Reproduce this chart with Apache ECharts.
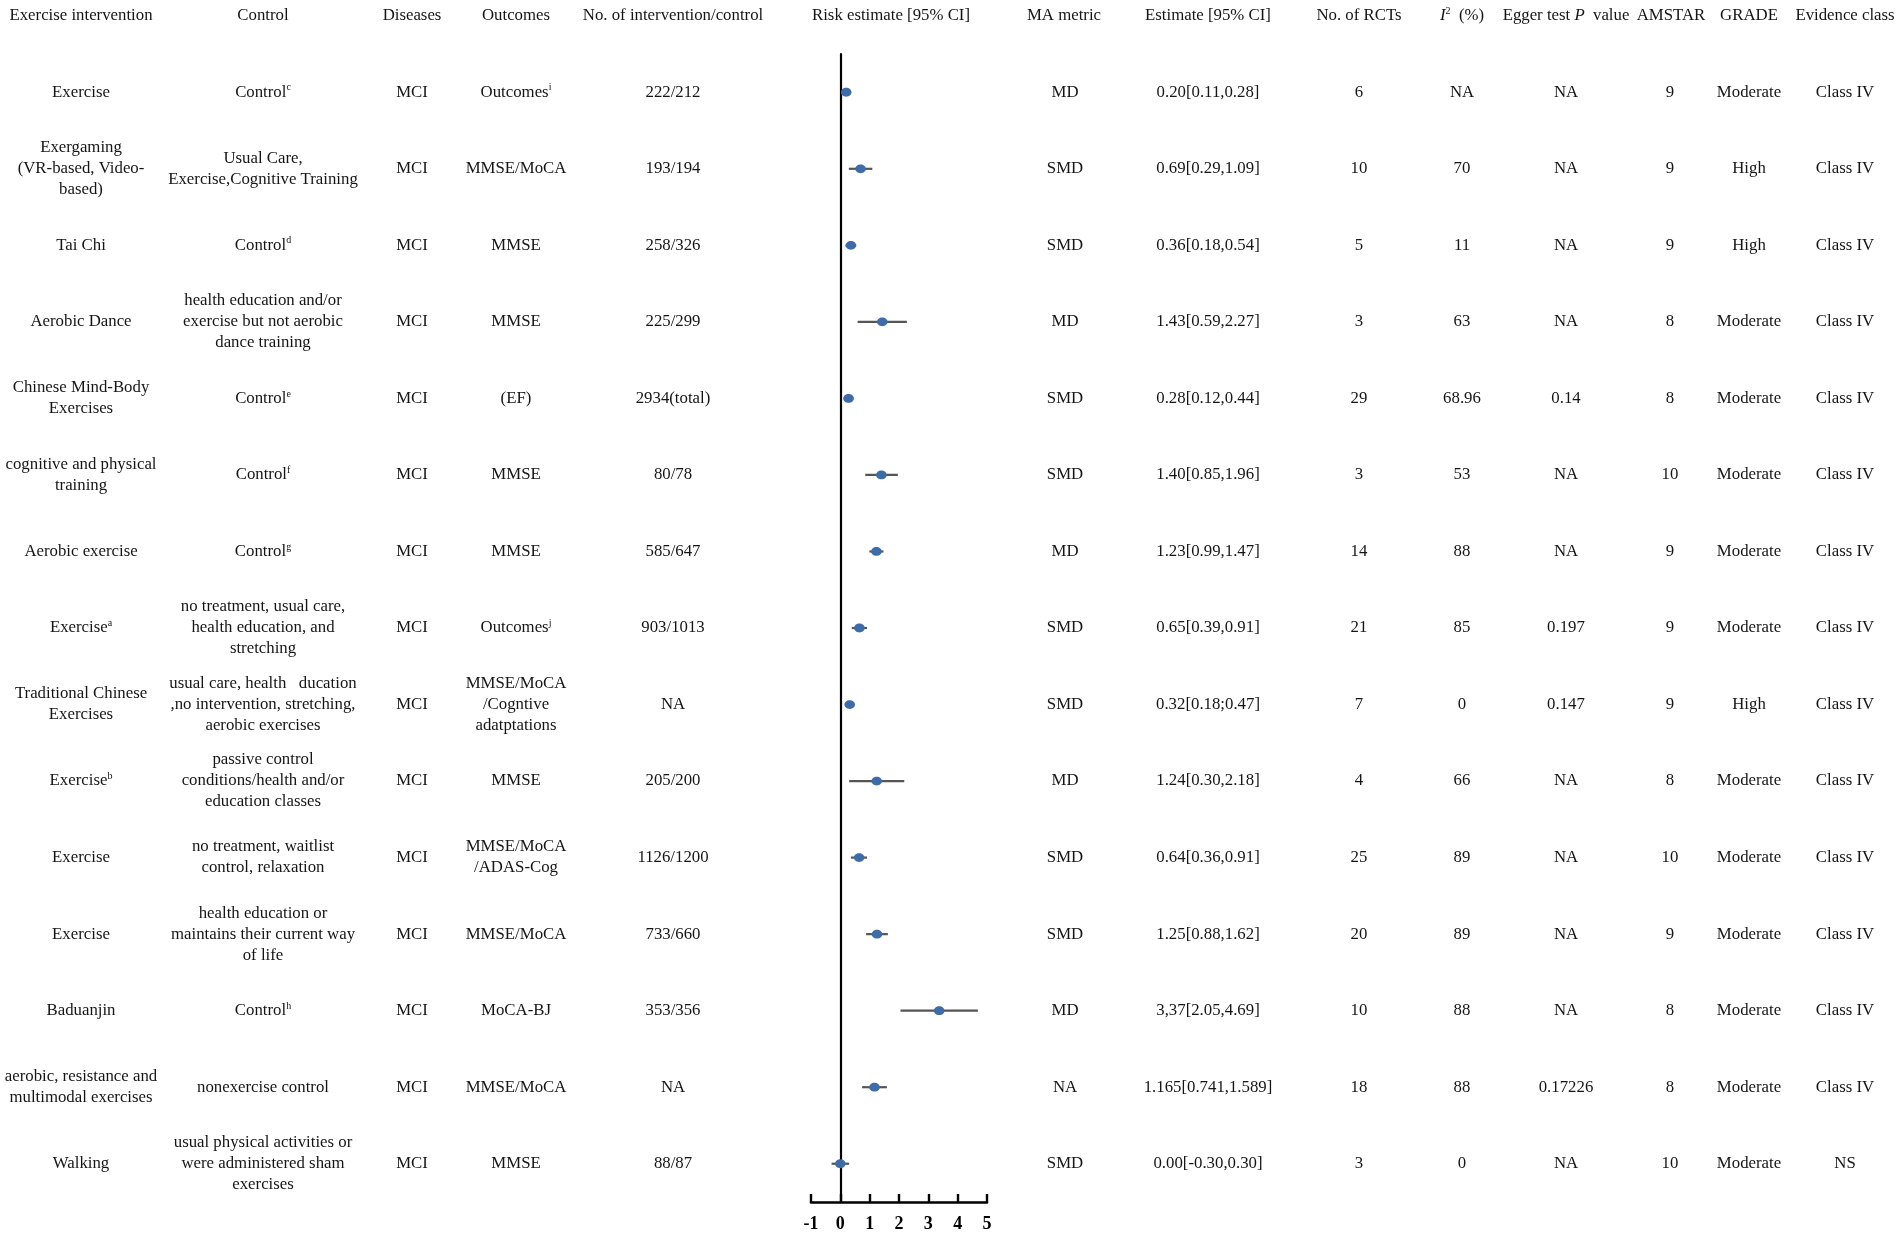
<!DOCTYPE html>
<html>
<head>
<meta charset="utf-8">
<script src="https://cdn.jsdelivr.net/npm/echarts@6/dist/echarts.min.js"></script>
<style>
html,body{margin:0;padding:0;background:#fff;}
#chart{width:1902px;height:1235px;}
</style>
</head>
<body>
<div id="chart"></div>
<script>
// ---------- DATA ----------
const HEADERS = ['Exercise intervention','Control','Diseases','Outcomes','No. of intervention/control','Risk estimate [95% CI]','MA metric','Estimate [95% CI]','No. of RCTs','{it|I}{sup|2}  (%)','Egger test {it|P}  value','AMSTAR','GRADE','Evidence class'];

const INTERVENTION = ['Exercise','Exergaming\n(VR-based, Video-\nbased)','Tai Chi','Aerobic Dance','Chinese Mind-Body\nExercises','cognitive and physical\ntraining','Aerobic exercise','Exercise{sup|a}','Traditional Chinese\nExercises','Exercise{sup|b}','Exercise','Exercise','Baduanjin','aerobic, resistance and\nmultimodal exercises','Walking'];

const CONTROL = ['Control{sup|c}','Usual Care,\nExercise,Cognitive Training','Control{sup|d}','health education and/or\nexercise but not aerobic\ndance training','Control{sup|e}','Control{sup|f}','Control{sup|g}','no treatment, usual care,\nhealth education, and\nstretching','usual care, health   ducation\n,no intervention, stretching,\naerobic exercises','passive control\nconditions/health and/or\neducation classes','no treatment, waitlist\ncontrol, relaxation','health education or\nmaintains their current way\nof life','Control{sup|h}','nonexercise control','usual physical activities or\nwere administered sham\nexercises'];

const DISEASES = ['MCI','MCI','MCI','MCI','MCI','MCI','MCI','MCI','MCI','MCI','MCI','MCI','MCI','MCI','MCI'];

const OUTCOMES = ['Outcomes{sup|i}','MMSE/MoCA','MMSE','MMSE','(EF)','MMSE','MMSE','Outcomes{sup|j}','MMSE/MoCA\n/Cogntive\nadatptations','MMSE','MMSE/MoCA\n/ADAS-Cog','MMSE/MoCA','MoCA-BJ','MMSE/MoCA','MMSE'];

const SAMPLE = ['222/212','193/194','258/326','225/299','2934(total)','80/78','585/647','903/1013','NA','205/200','1126/1200','733/660','353/356','NA','88/87'];

const MA_METRIC = ['MD','SMD','SMD','MD','SMD','SMD','MD','SMD','SMD','MD','SMD','SMD','MD','NA','SMD'];

const ESTIMATE_TEXT = ['0.20[0.11,0.28]','0.69[0.29,1.09]','0.36[0.18,0.54]','1.43[0.59,2.27]','0.28[0.12,0.44]','1.40[0.85,1.96]','1.23[0.99,1.47]','0.65[0.39,0.91]','0.32[0.18;0.47]','1.24[0.30,2.18]','0.64[0.36,0.91]','1.25[0.88,1.62]','3,37[2.05,4.69]','1.165[0.741,1.589]','0.00[-0.30,0.30]'];

const RCTS = ['6','10','5','3','29','3','14','21','7','4','25','20','10','18','3'];
const I2 = ['NA','70','11','63','68.96','53','88','85','0','66','89','89','88','88','0'];
const EGGER = ['NA','NA','NA','NA','0.14','NA','NA','0.197','0.147','NA','NA','NA','NA','0.17226','NA'];
const AMSTAR = ['9','9','9','8','8','10','9','9','9','8','10','9','8','8','10'];
const GRADE = ['Moderate','High','High','Moderate','Moderate','Moderate','Moderate','Moderate','High','Moderate','Moderate','Moderate','Moderate','Moderate','Moderate'];
const EVIDENCE = ['Class IV','Class IV','Class IV','Class IV','Class IV','Class IV','Class IV','Class IV','Class IV','Class IV','Class IV','Class IV','Class IV','Class IV','NS'];

const EST = [0.20,0.69,0.36,1.43,0.28,1.40,1.23,0.65,0.32,1.24,0.64,1.25,3.37,1.165,0.00];
const LO  = [0.11,0.29,0.18,0.59,0.12,0.85,0.99,0.39,0.18,0.30,0.36,0.88,2.05,0.741,-0.30];
const HI  = [0.28,1.09,0.54,2.27,0.44,1.96,1.47,0.91,0.47,2.18,0.91,1.62,4.69,1.589,0.30];

const X_TICKS = [-1,0,1,2,3,4,5];

// ---------- LAYOUT ----------
const TEXT_COLS = [INTERVENTION, CONTROL, DISEASES, OUTCOMES, SAMPLE, MA_METRIC, ESTIMATE_TEXT, RCTS, I2, EGGER, AMSTAR, GRADE, EVIDENCE];
const TEXT_COL_X = [81, 263, 412, 516, 673, 1065, 1208, 1359, 1462, 1566, 1670, 1749, 1845];
const HEADER_X = [81, 263, 412, 516, 673, 891, 1064, 1208, 1359, 1462, 1566, 1671, 1749, 1845];
const FONT_FAMILY = '"Liberation Serif","Times New Roman",serif';
const FONT_SIZE = 16.8;
const TEXT_COLOR = '#151515';
const RICH = {
  sup: { fontSize: 10, lineHeight: 10, verticalAlign: 'top', fontFamily: FONT_FAMILY, fill: TEXT_COLOR, padding: [1, 0, 0, 0] },
  it: { fontStyle: 'italic', fontSize: FONT_SIZE, fontFamily: FONT_FAMILY, fill: TEXT_COLOR }
};

const ROWS = INTERVENTION.map((_, i) => 'r' + i);

function textStyle(str) {
  return {
    text: str,
    fill: TEXT_COLOR,
    fontFamily: FONT_FAMILY,
    fontSize: FONT_SIZE,
    align: 'center',
    verticalAlign: 'middle',
    lineHeight: 21,
    rich: RICH
  };
}

const chart = echarts.init(document.getElementById('chart'), null, { renderer: 'canvas' });

const option = {
  backgroundColor: '#ffffff',
  animation: false,
  grid: { left: 811, right: 915, top: 54, bottom: 33, containLabel: false },
  xAxis: {
    type: 'value',
    min: -1, max: 5, interval: 1,
    axisLine: { show: true, lineStyle: { color: '#000', width: 2.6 } },
    axisTick: { show: true, inside: true, length: 8, lineStyle: { color: '#000', width: 2.4 } },
    axisLabel: {
      show: true, margin: 13, color: '#000',
      fontFamily: FONT_FAMILY, fontSize: 18, fontWeight: 'bold',
      formatter: v => X_TICKS.includes(v) ? String(v) : ''
    },
    splitLine: { show: false }
  },
  yAxis: {
    type: 'category',
    data: ROWS,
    inverse: true,
    axisLine: { show: true, onZero: true, lineStyle: { color: '#000', width: 2.2 } },
    axisTick: { show: false },
    axisLabel: { show: false },
    splitLine: { show: false }
  },
  graphic: HEADERS.map((h, k) => ({
    type: 'text',
    x: HEADER_X[k],
    y: 16,
    style: textStyle(h)
  })),
  series: [
    {
      type: 'custom',
      name: 'table',
      clip: false,
      silent: true,
      data: ROWS.map((_, i) => [0, i]),
      renderItem: function (params, api) {
        const i = api.value(1);
        const y = api.coord([0, i])[1];
        return {
          type: 'group',
          children: TEXT_COLS.map((col, k) => ({
            type: 'text',
            x: TEXT_COL_X[k],
            y: y,
            style: textStyle(col[i])
          }))
        };
      }
    },
    {
      type: 'custom',
      name: 'forest',
      clip: false,
      silent: true,
      data: EST.map((e, i) => [e, i, LO[i], HI[i]]),
      encode: { x: 0, y: 1 },
      renderItem: function (params, api) {
        const i = api.value(1);
        const pEst = api.coord([api.value(0), i]);
        const pLo = api.coord([api.value(2), i]);
        const pHi = api.coord([api.value(3), i]);
        return {
          type: 'group',
          children: [
            {
              type: 'line',
              shape: { x1: pLo[0], y1: pLo[1], x2: pHi[0], y2: pHi[1] },
              style: { stroke: '#555555', lineWidth: 2.2 }
            },
            {
              type: 'ellipse',
              shape: { cx: pEst[0], cy: pEst[1], rx: 5.3, ry: 4.4 },
              style: { fill: '#3e6ca9' }
            }
          ]
        };
      }
    }
  ]
};

chart.setOption(option);
</script>
</body>
</html>
